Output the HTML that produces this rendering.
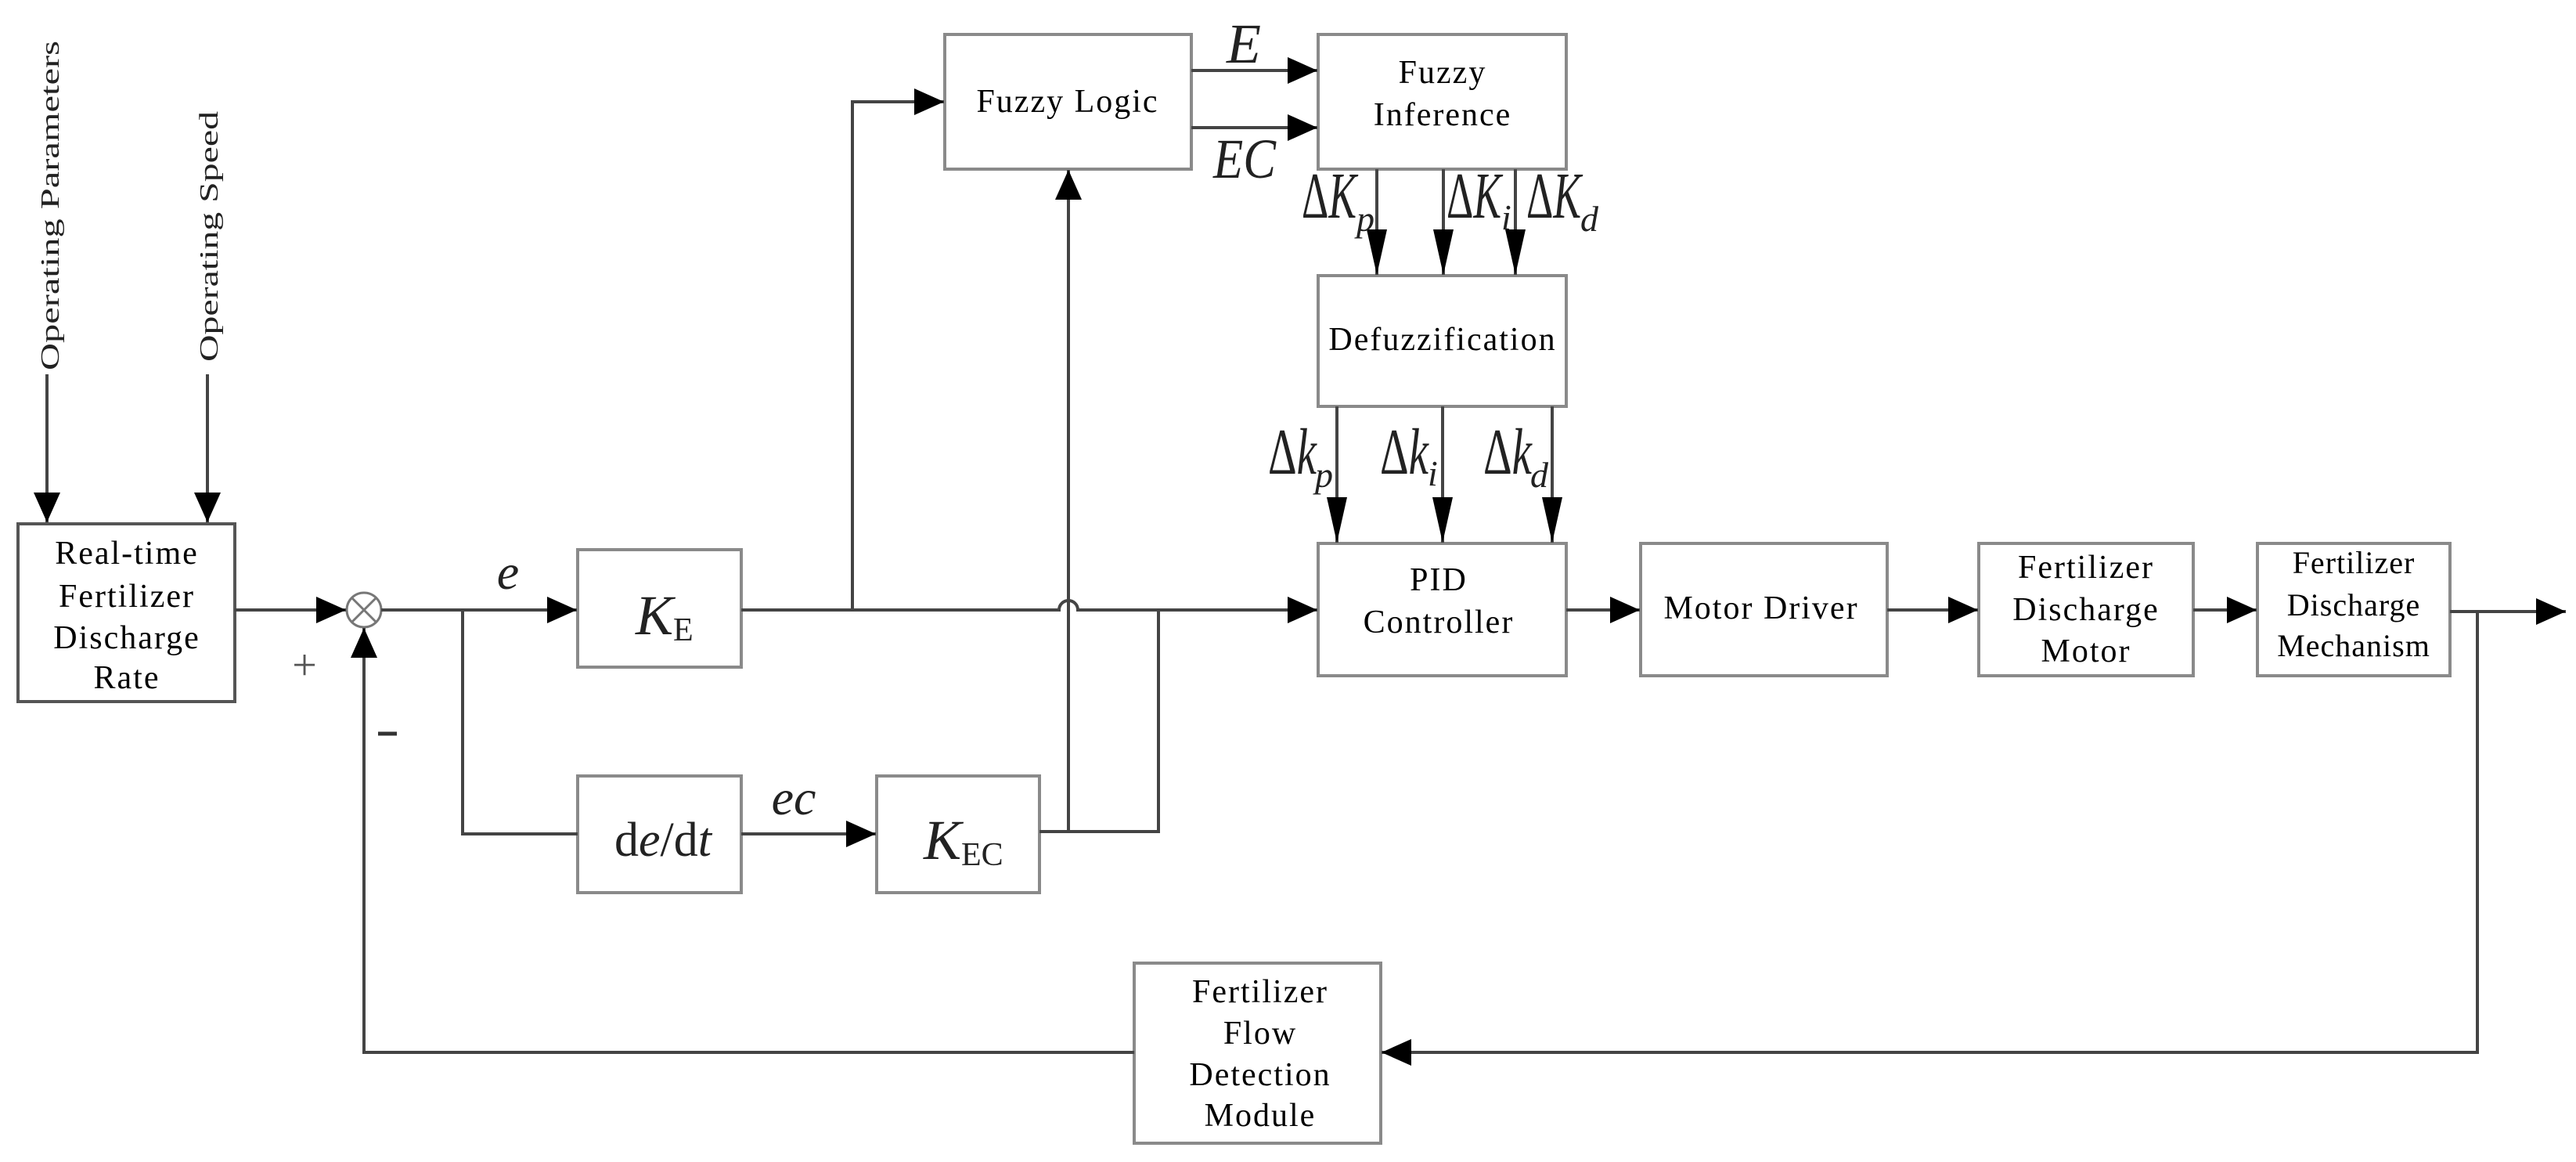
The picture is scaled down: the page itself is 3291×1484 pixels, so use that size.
<!DOCTYPE html>
<html><head><meta charset="utf-8"><style>
html,body{margin:0;padding:0;background:#fff;}
svg{display:block;}
.bx{fill:#fff;stroke:#8a8a8a;stroke-width:4;}
.ln{stroke:#444;stroke-width:4;fill:none;}
.t{font-family:"Liberation Serif",serif;font-size:42px;fill:#000;text-anchor:middle;letter-spacing:2px;}
.m{font-family:"Liberation Serif",serif;font-style:italic;fill:#222;}
.r{font-family:"Liberation Serif",serif;font-size:34px;fill:#222;}
</style></head><body>
<svg width="3291" height="1484" viewBox="0 0 3291 1484" xmlns="http://www.w3.org/2000/svg">
<defs>
<marker id="a" markerUnits="userSpaceOnUse" markerWidth="40" markerHeight="34" refX="38" refY="17" orient="auto"><path d="M0,0 L38,17 L0,34 Z" fill="#000"/></marker>
<marker id="v" markerUnits="userSpaceOnUse" markerWidth="60" markerHeight="26" refX="58" refY="13" orient="auto"><path d="M0,0 L58,13 L0,26 Z" fill="#000"/></marker>
</defs>

<text class="r" transform="translate(75,473) rotate(-90)" textLength="421" lengthAdjust="spacingAndGlyphs">Operating Parameters</text>
<text class="r" transform="translate(278,462) rotate(-90)" textLength="320" lengthAdjust="spacingAndGlyphs">Operating Speed</text>
<line class="ln" x1="60" y1="478" x2="60" y2="667" marker-end="url(#a)"/>
<line class="ln" x1="265" y1="478" x2="265" y2="667" marker-end="url(#a)"/>

<rect class="bx" x="23" y="669" width="277" height="227" style="stroke:#555"/>
<text class="t"><tspan x="162" y="720">Real-time</tspan><tspan x="162" y="775">Fertilizer</tspan><tspan x="162" y="828">Discharge</tspan><tspan x="162" y="879">Rate</tspan></text>

<rect class="bx" x="738" y="702" width="209" height="150"/>
<rect class="bx" x="738" y="991" width="209" height="149"/>
<rect class="bx" x="1120" y="991" width="208" height="149"/>
<rect class="bx" x="1207" y="44" width="315" height="172"/>
<text class="t" x="1364" y="143">Fuzzy Logic</text>
<rect class="bx" x="1684" y="44" width="317" height="172"/>
<text class="t"><tspan x="1843" y="106">Fuzzy</tspan><tspan x="1843" y="160">Inference</tspan></text>
<rect class="bx" x="1684" y="352" width="317" height="167"/>
<text class="t" x="1843" y="447">Defuzzification</text>
<rect class="bx" x="1684" y="694" width="317" height="169"/>
<text class="t"><tspan x="1838" y="754">PID</tspan><tspan x="1838" y="808">Controller</tspan></text>
<rect class="bx" x="2096" y="694" width="315" height="169"/>
<text class="t" x="2250" y="790">Motor Driver</text>
<rect class="bx" x="2528" y="694" width="274" height="169"/>
<text class="t"><tspan x="2665" y="738">Fertilizer</tspan><tspan x="2665" y="792">Discharge</tspan><tspan x="2665" y="845">Motor</tspan></text>
<rect class="bx" x="2884" y="694" width="246" height="169"/>
<text class="t" style="letter-spacing:1px;font-size:40px"><tspan x="3007" y="732">Fertilizer</tspan><tspan x="3007" y="786">Discharge</tspan><tspan x="3007" y="838">Mechanism</tspan></text>
<rect class="bx" x="1449" y="1230" width="315" height="230"/>
<text class="t"><tspan x="1610" y="1280">Fertilizer</tspan><tspan x="1610" y="1333">Flow</tspan><tspan x="1610" y="1386">Detection</tspan><tspan x="1610" y="1438">Module</tspan></text>

<text class="m" x="812" y="810" font-size="72">K<tspan font-style="normal" font-size="42" dy="8">E</tspan></text>
<text x="785" y="1093" font-family="Liberation Serif,serif" font-size="62" fill="#222">d<tspan font-style="italic">e</tspan>/d<tspan font-style="italic">t</tspan></text>
<text class="m" x="1180" y="1097" font-size="72">K<tspan font-style="normal" font-size="42" dy="8">EC</tspan></text>

<circle cx="465" cy="779" r="22" fill="#fff" stroke="#777" stroke-width="3"/>
<line x1="450" y1="764" x2="480" y2="794" stroke="#777" stroke-width="3"/>
<line x1="480" y1="764" x2="450" y2="794" stroke="#777" stroke-width="3"/>
<text x="389" y="868" font-family="Liberation Serif,serif" font-size="56" fill="#555" text-anchor="middle">+</text>
<line x1="483" y1="937" x2="507" y2="937" stroke="#333" stroke-width="5"/>

<line class="ln" x1="300" y1="779" x2="442" y2="779" marker-end="url(#a)"/>
<line class="ln" x1="487" y1="779" x2="737" y2="779" marker-end="url(#a)"/>
<path class="ln" d="M591,779 V1065 H738"/>
<line class="ln" x1="947" y1="1065" x2="1119" y2="1065" marker-end="url(#a)"/>
<path class="ln" d="M947,779 H1353 A12,12 0 0 1 1377,779 H1683" marker-end="url(#a)"/>
<path class="ln" d="M1089,779 V130 H1206" marker-end="url(#a)"/>
<path class="ln" d="M1328,1062 H1480 V779"/>
<line class="ln" x1="1365" y1="1062" x2="1365" y2="217" marker-end="url(#a)"/>
<line class="ln" x1="1522" y1="90" x2="1683" y2="90" marker-end="url(#a)"/>
<line class="ln" x1="1522" y1="163" x2="1683" y2="163" marker-end="url(#a)"/>
<line class="ln" x1="1759" y1="216" x2="1759" y2="351" marker-end="url(#v)"/>
<line class="ln" x1="1844" y1="216" x2="1844" y2="351" marker-end="url(#v)"/>
<line class="ln" x1="1936" y1="216" x2="1936" y2="351" marker-end="url(#v)"/>
<line class="ln" x1="1708" y1="519" x2="1708" y2="693" marker-end="url(#v)"/>
<line class="ln" x1="1843" y1="519" x2="1843" y2="693" marker-end="url(#v)"/>
<line class="ln" x1="1983" y1="519" x2="1983" y2="693" marker-end="url(#v)"/>
<line class="ln" x1="2001" y1="779" x2="2095" y2="779" marker-end="url(#a)"/>
<line class="ln" x1="2411" y1="779" x2="2527" y2="779" marker-end="url(#a)"/>
<line class="ln" x1="2802" y1="779" x2="2883" y2="779" marker-end="url(#a)"/>
<line class="ln" x1="3130" y1="781" x2="3278" y2="781" marker-end="url(#a)"/>
<path class="ln" d="M3165,781 V1344 H1765" marker-end="url(#a)"/>
<path class="ln" d="M1449,1344 H465 V802" marker-end="url(#a)"/>

<text class="m" x="649" y="752" font-size="64" text-anchor="middle">e</text>
<text class="m" x="1014" y="1040" font-size="64" text-anchor="middle">ec</text>
<text class="m" x="1589" y="80" font-size="72" text-anchor="middle">E</text>
<text class="m" x="1590" y="227" font-size="72" text-anchor="middle" textLength="80" lengthAdjust="spacingAndGlyphs">EC</text>
<text class="m" x="1663" y="278" font-size="84" textLength="70" lengthAdjust="spacingAndGlyphs"><tspan font-style="normal">Δ</tspan>K</text><text class="m" x="1733" y="295" font-size="46">p</text>
<text class="m" x="1848" y="278" font-size="84" textLength="70" lengthAdjust="spacingAndGlyphs"><tspan font-style="normal">Δ</tspan>K</text><text class="m" x="1918" y="293" font-size="46">i</text>
<text class="m" x="1950" y="278" font-size="84" textLength="70" lengthAdjust="spacingAndGlyphs"><tspan font-style="normal">Δ</tspan>K</text><text class="m" x="2019" y="295" font-size="46">d</text>
<text class="m" x="1620" y="605" font-size="84" textLength="62" lengthAdjust="spacingAndGlyphs"><tspan font-style="normal">Δ</tspan>k</text><text class="m" x="1680" y="622" font-size="46">p</text>
<text class="m" x="1763" y="605" font-size="84" textLength="62" lengthAdjust="spacingAndGlyphs"><tspan font-style="normal">Δ</tspan>k</text><text class="m" x="1824" y="620" font-size="46">i</text>
<text class="m" x="1895" y="605" font-size="84" textLength="62" lengthAdjust="spacingAndGlyphs"><tspan font-style="normal">Δ</tspan>k</text><text class="m" x="1955" y="622" font-size="46">d</text>
</svg>
</body></html>
